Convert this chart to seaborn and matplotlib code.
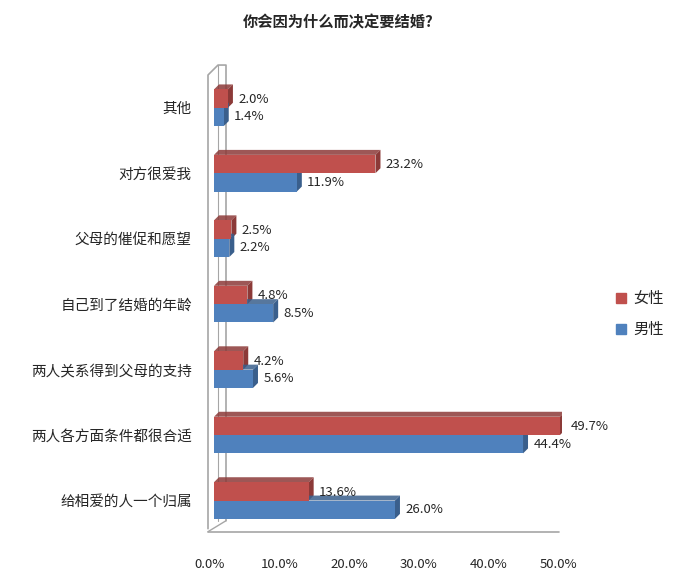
import pandas as pd
import matplotlib.pyplot as plt
import seaborn as sns
from matplotlib.patches import Polygon
from matplotlib.lines import Line2D
from matplotlib.transforms import ScaledTranslation

# Data
categories = ['其他', '对方很爱我', '父母的催促和愿望', '自己到了结婚的年龄',
              '两人关系得到父母的支持', '两人各方面条件都很合适', '给相爱的人一个归属']
female = [2.0, 23.2, 2.5, 4.8, 4.2, 49.7, 13.6]
male = [1.4, 11.9, 2.2, 8.5, 5.6, 44.4, 26.0]
x_ticks = [0, 10, 20, 30, 40, 50]

df = pd.DataFrame({
    'cat': categories * 2,
    'val': female + male,
    'sex': ['女性'] * len(categories) + ['男性'] * len(categories),
})

sns.set_style('white')
plt.rcParams['font.family'] = ['Noto Sans CJK SC', 'DejaVu Sans']

red, blue = '#C0504D', '#4F81BD'
red_dk, blue_dk = '#8C3A38', '#3A5F8C'

fig = plt.figure(figsize=(6.77, 5.83), dpi=100)
ax = fig.add_axes([214 / 677, 1 - 530 / 583, 348 / 677, 455 / 583])

sns.barplot(data=df, y='cat', x='val', hue='sex', hue_order=['女性', '男性'],
            palette=[red, blue], orient='h', width=0.56, ax=ax, legend=False,
            saturation=1, zorder=2, edgecolor='none', linewidth=0)

ax.set_xlim(0, 50)
ax.set_ylim(6.45, -0.5)
ax.set_xticks(x_ticks)
ax.set_xticklabels([f'{t:.1f}%' for t in x_ticks], fontsize=9.5)
ax.tick_params(axis='x', length=0, pad=20)
ax.tick_params(axis='y', length=0, pad=16, labelsize=10.5)
for lbl in ax.get_xticklabels():
    lbl.set_transform(lbl.get_transform() + ScaledTranslation(-4 / 100, 0, fig.dpi_scale_trans))
ax.set_xlabel('')
ax.set_ylabel('')
for s in ax.spines.values():
    s.set_visible(False)

# fake 3D depth
dx = 5 * 50 / 348
dy = 5 / 65.8
for p in ax.patches:
    x0, y0 = p.get_x(), p.get_y()
    w, h = p.get_width(), p.get_height()
    c = red_dk if p.get_facecolor()[0] > 0.5 else blue_dk
    side = Polygon([(x0 + w, y0), (x0 + w + dx, y0 - dy),
                    (x0 + w + dx, y0 + h - dy), (x0 + w, y0 + h)],
                   closed=True, facecolor=c, edgecolor='none', zorder=1.5)
    top = Polygon([(x0, y0), (x0 + dx, y0 - dy), (x0 + w + dx, y0 - dy), (x0 + w, y0)],
                  closed=True, facecolor=c, edgecolor='none', zorder=1.5, alpha=0.85)
    ax.add_patch(side)
    ax.add_patch(top)

# value labels
for i in range(len(categories)):
    ax.text(female[i] + 1.5, i - 0.13, f'{female[i]:.1f}%', va='center', fontsize=9.5)
    ax.text(male[i] + 1.5, i + 0.14, f'{male[i]:.1f}%', va='center', fontsize=9.5)

# wall and floor lines
gray = '#A6A6A6'
px = 50 / 348
py = 1 / 65.8
ax.plot([-6 * px, -6 * px, 4 * px, 12 * px, 12 * px],
        [6.43, -0.5, -0.5 - 10 * py, -0.5 - 10 * py, 6.43 - 8 * py],
        color=gray, lw=1.2, clip_on=False, zorder=1)
ax.plot([4 * px, 4 * px], [-0.5 - 10 * py, 6.43 - 8 * py], color=gray, lw=0.8,
        clip_on=False, zorder=1)
ax.plot([-6 * px, 49.5], [6.43 + 3 * py, 6.43 + 3 * py], color=gray, lw=1.2,
        clip_on=False, zorder=1)
ax.plot([-6 * px, 12 * px], [6.43 + 3 * py, 6.43 - 8 * py], color=gray, lw=1.0,
        clip_on=False, zorder=1)

handles = [Line2D([], [], marker='s', ls='', color=red, markersize=7),
           Line2D([], [], marker='s', ls='', color=blue, markersize=7)]
fig.legend(handles, ['女性', '男性'], loc='center left', bbox_to_anchor=(604 / 677, 1 - 314 / 583),
           frameon=False, fontsize=11, handletextpad=0.2, labelspacing=0.9,
           borderpad=0, handlelength=1.2)

fig.text(0.5, 1 - 22 / 583, '你会因为什么而决定要结婚?', ha='center', va='center',
         fontsize=11, fontweight='bold')

fig.savefig('out.png', dpi=100)
